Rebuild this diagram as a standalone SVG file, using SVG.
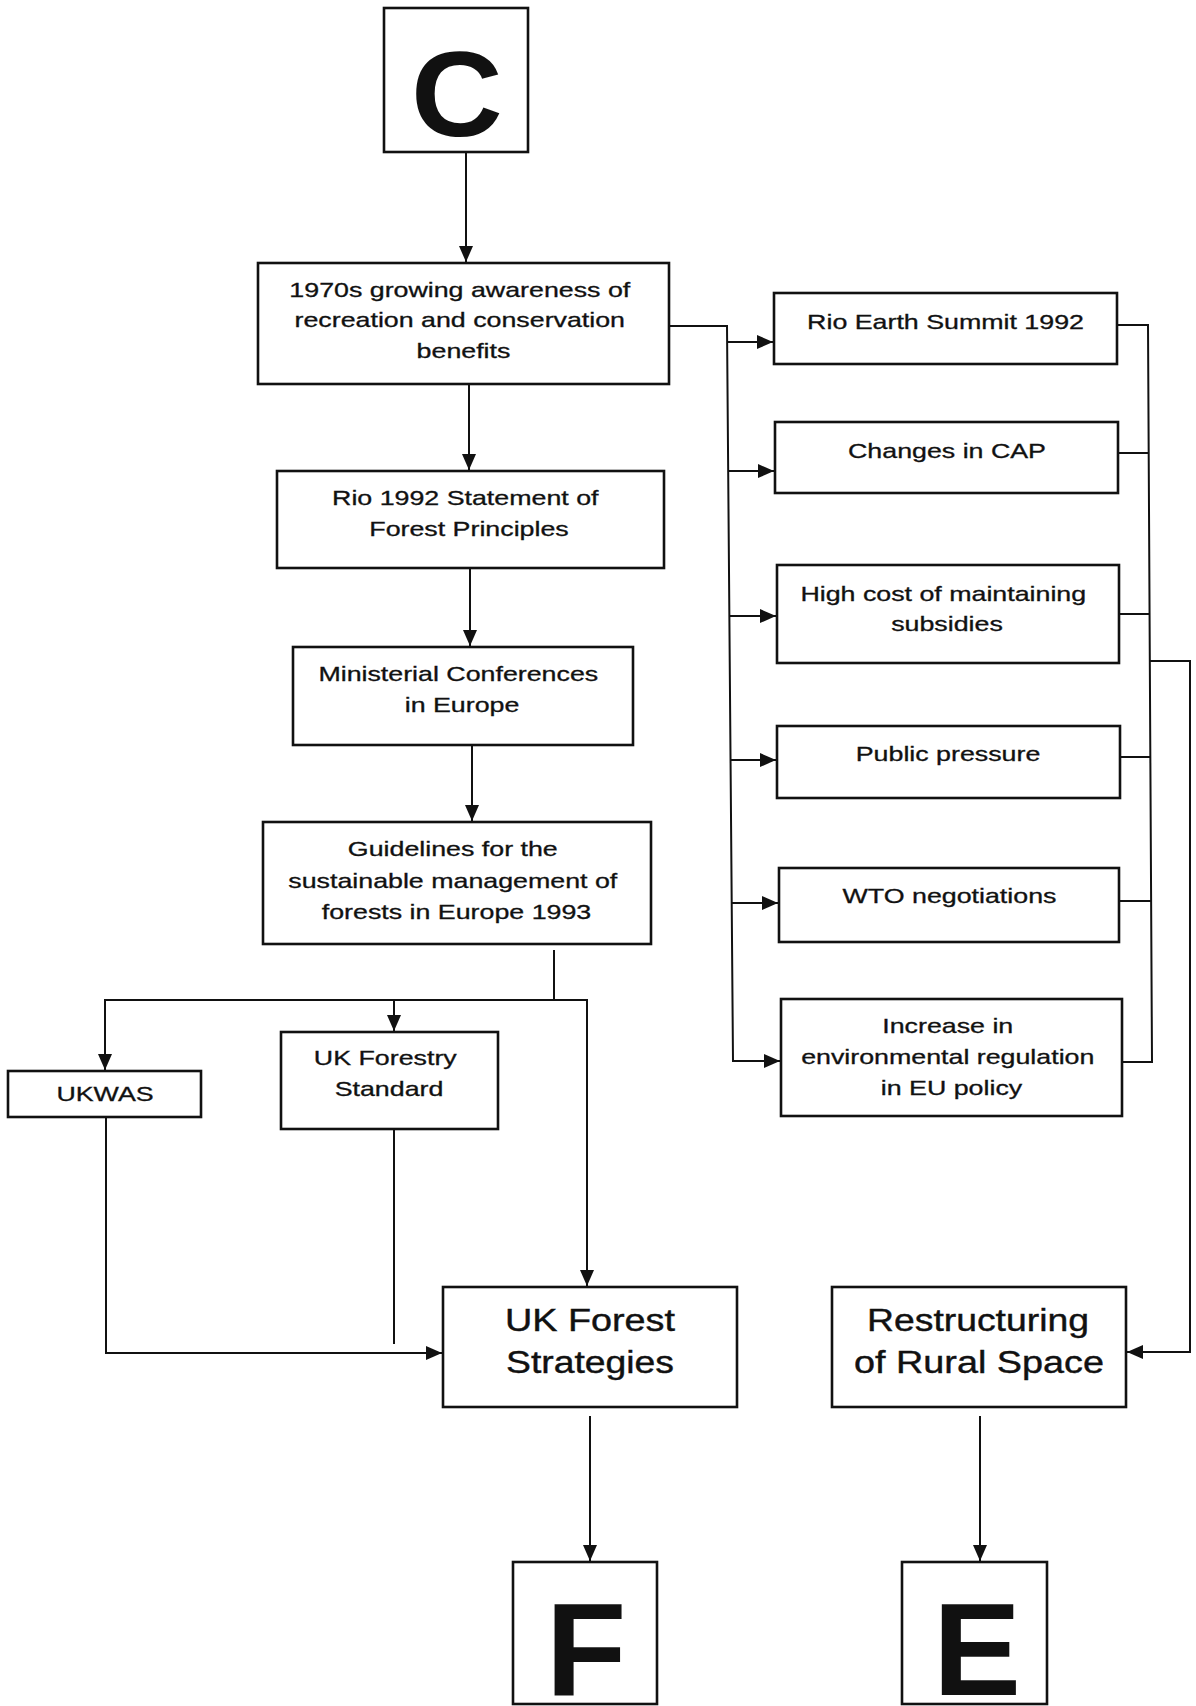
<svg xmlns="http://www.w3.org/2000/svg" width="1196" height="1706" viewBox="0 0 1196 1706">
<style>
  .box{fill:#fff;stroke:#111;stroke-width:2.6}
  .t{font-family:"Liberation Sans",Arial,sans-serif;font-size:20px;fill:#111;stroke:#111;stroke-width:0.3;text-anchor:middle}
  .big{font-family:"Liberation Sans",Arial,sans-serif;font-size:31px;fill:#111;stroke:#111;stroke-width:0.4;text-anchor:middle}
  .letter{font-family:"Liberation Sans",Arial,sans-serif;font-weight:bold;fill:#111;text-anchor:middle}
  .c{fill:none;stroke:#111;stroke-width:2}
</style>
<defs>
  <marker id="ah" markerUnits="userSpaceOnUse" markerWidth="16" markerHeight="14" refX="16" refY="7" orient="auto">
    <path d="M0,0 L16,7 L0,14 Z" fill="#111"/>
  </marker>
</defs>
<rect width="1196" height="1706" fill="#fff"/>

<g id="connectors">
  <line class="c" x1="466" y1="152" x2="466" y2="262" marker-end="url(#ah)"/>
  <line class="c" x1="469" y1="385" x2="469" y2="470" marker-end="url(#ah)"/>
  <line class="c" x1="470" y1="569" x2="470" y2="646" marker-end="url(#ah)"/>
  <line class="c" x1="472" y1="745" x2="472" y2="821" marker-end="url(#ah)"/>
  <polyline class="c" points="660,326 727,326 733,1061 780,1061" marker-end="url(#ah)"/>
  <line class="c" x1="727.1" y1="342" x2="773" y2="342" marker-end="url(#ah)"/>
  <line class="c" x1="728.2" y1="471" x2="774" y2="471" marker-end="url(#ah)"/>
  <line class="c" x1="729.4" y1="616" x2="776" y2="616" marker-end="url(#ah)"/>
  <line class="c" x1="730.5" y1="760" x2="776" y2="760" marker-end="url(#ah)"/>
  <line class="c" x1="731.7" y1="903" x2="778" y2="903" marker-end="url(#ah)"/>
  <polyline class="c" points="1117,325 1148,325 1152,1062 1122,1062"/>
  <line class="c" x1="1118" y1="453" x2="1149" y2="453"/>
  <line class="c" x1="1119" y1="614" x2="1150" y2="614"/>
  <line class="c" x1="1120" y1="757" x2="1150" y2="757"/>
  <line class="c" x1="1119" y1="901" x2="1151" y2="901"/>
  <polyline class="c" points="1150,661 1190,661 1190,1352 1127,1352" marker-end="url(#ah)"/>
  <polyline class="c" points="554,950 554,1000"/>
  <polyline class="c" points="105,1000 587,1000 587,1286" marker-end="url(#ah)"/>
  <line class="c" x1="105" y1="999" x2="105" y2="1070" marker-end="url(#ah)"/>
  <line class="c" x1="394" y1="1000" x2="394" y2="1031" marker-end="url(#ah)"/>
  <polyline class="c" points="106,1117 106,1353 442,1353" marker-end="url(#ah)"/>
  <line class="c" x1="394" y1="1129" x2="394" y2="1344"/>
  <line class="c" x1="590" y1="1416" x2="590" y2="1561" marker-end="url(#ah)"/>
  <line class="c" x1="980" y1="1416" x2="980" y2="1561" marker-end="url(#ah)"/>
</g>

<g id="nodeC">
  <rect class="box" x="384" y="8" width="144" height="144"/>
  <text class="letter" font-size="120" transform="translate(457,0) scale(1.06,1)" x="0" y="136">C</text>
</g>

<g id="n1970s">
  <rect class="box" x="258" y="263" width="411" height="121"/>
  <text class="t" transform="translate(463.5,0) scale(1.34,1)">
    <tspan x="0" y="297">1970s growing awareness of</tspan>
    <tspan x="0" y="327">recreation and conservation</tspan>
    <tspan x="0" y="358">benefits</tspan>
  </text>
</g>

<g id="nRio1992">
  <rect class="box" x="277" y="471" width="387" height="97"/>
  <text class="t" transform="translate(469,0) scale(1.34,1)">
    <tspan x="0" y="505">Rio 1992 Statement of</tspan>
    <tspan x="0" y="536">Forest Principles</tspan>
  </text>
</g>

<g id="nMinisterial">
  <rect class="box" x="293" y="647" width="340" height="98"/>
  <text class="t" transform="translate(462,0) scale(1.34,1)">
    <tspan x="0" y="681">Ministerial Conferences</tspan>
    <tspan x="0" y="712">in Europe</tspan>
  </text>
</g>

<g id="nGuidelines">
  <rect class="box" x="263" y="822" width="388" height="122"/>
  <text class="t" transform="translate(456.5,0) scale(1.34,1)">
    <tspan x="0" y="856">Guidelines for the</tspan>
    <tspan x="0" y="888">sustainable management of</tspan>
    <tspan x="0" y="919">forests in Europe 1993</tspan>
  </text>
</g>

<g id="nUKWAS">
  <rect class="box" x="8" y="1071" width="193" height="46"/>
  <text class="t" transform="translate(105,0) scale(1.34,1)" x="0" y="1101">UKWAS</text>
</g>

<g id="nUKFS">
  <rect class="box" x="281" y="1032" width="217" height="97"/>
  <text class="t" transform="translate(389,0) scale(1.34,1)">
    <tspan x="0" y="1065">UK Forestry</tspan>
    <tspan x="0" y="1096">Standard</tspan>
  </text>
</g>

<g id="nRioEarth">
  <rect class="box" x="774" y="293" width="343" height="71"/>
  <text class="t" transform="translate(945.5,0) scale(1.34,1)" x="0" y="329">Rio Earth Summit 1992</text>
</g>

<g id="nCAP">
  <rect class="box" x="775" y="422" width="343" height="71"/>
  <text class="t" transform="translate(947,0) scale(1.34,1)" x="0" y="458">Changes in CAP</text>
</g>

<g id="nHighCost">
  <rect class="box" x="777" y="565" width="342" height="98"/>
  <text class="t" transform="translate(947,0) scale(1.34,1)">
    <tspan x="0" y="601">High cost of maintaining</tspan>
    <tspan x="0" y="631">subsidies</tspan>
  </text>
</g>

<g id="nPublic">
  <rect class="box" x="777" y="726" width="343" height="72"/>
  <text class="t" transform="translate(948,0) scale(1.34,1)" x="0" y="761">Public pressure</text>
</g>

<g id="nWTO">
  <rect class="box" x="779" y="868" width="340" height="74"/>
  <text class="t" transform="translate(949.5,0) scale(1.34,1)" x="0" y="903">WTO negotiations</text>
</g>

<g id="nIncrease">
  <rect class="box" x="781" y="999" width="341" height="117"/>
  <text class="t" transform="translate(951.5,0) scale(1.34,1)">
    <tspan x="0" y="1033">Increase in</tspan>
    <tspan x="0" y="1064">environmental regulation</tspan>
    <tspan x="0" y="1095">in EU policy</tspan>
  </text>
</g>

<g id="nUKForestStrategies">
  <rect class="box" x="443" y="1287" width="294" height="120"/>
  <text class="big" x="590" y="1331" textLength="170" lengthAdjust="spacingAndGlyphs">UK Forest</text>
  <text class="big" x="590" y="1373" textLength="168" lengthAdjust="spacingAndGlyphs">Strategies</text>
</g>

<g id="nRestructuring">
  <rect class="box" x="832" y="1287" width="294" height="120"/>
  <text class="big" x="978" y="1331" textLength="222" lengthAdjust="spacingAndGlyphs">Restructuring</text>
  <text class="big" x="979" y="1373" textLength="250" lengthAdjust="spacingAndGlyphs">of Rural Space</text>
</g>

<g id="nodeF">
  <rect class="box" x="513" y="1562" width="144" height="142"/>
  <text class="letter" font-size="132" x="586" y="1695">F</text>
</g>

<g id="nodeE">
  <rect class="box" x="902" y="1562" width="145" height="142"/>
  <text class="letter" font-size="132" x="977" y="1695">E</text>
</g>
</svg>
